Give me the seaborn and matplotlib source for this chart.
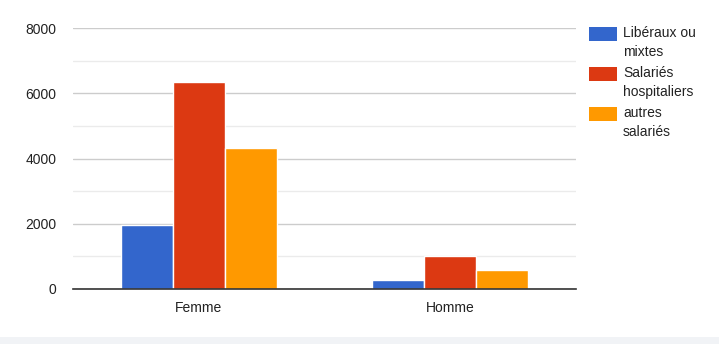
import matplotlib
matplotlib.use("Agg")
import matplotlib.pyplot as plt
import seaborn as sns
import pandas as pd
from matplotlib.patches import Rectangle
from matplotlib.ticker import MultipleLocator

categories = ["Femme", "Homme"]
series_names = ["Libéraux ou mixtes", "Salariés hospitaliers", "autres salariés"]
legend_labels = ["Libéraux ou\nmixtes", "Salariés\nhospitaliers", "autres\nsalariés"]
liberaux = [1970, 280]
hospitaliers = [6335, 1020]
autres = [4320, 575]
colors = ["#3366CC", "#DC3912", "#FF9900"]
yticks = [0, 2000, 4000, 6000, 8000]

rows = []
for s, vals in zip(series_names, [liberaux, hospitaliers, autres]):
    for c, v in zip(categories, vals):
        rows.append({"cat": c, "serie": s, "val": v})
df = pd.DataFrame(rows)

sns.set_theme(style="white")
plt.rcParams["font.family"] = ["Liberation Sans", "DejaVu Sans"]

W, H = 719, 344
fig = plt.figure(figsize=(7.19, 3.44), dpi=100)
fig.patch.set_facecolor("white")
# faint grey band at the bottom of the screenshot
fig.patches.append(Rectangle((0, 0), 1, 7/H, transform=fig.transFigure,
                             facecolor="#f1f3f6", edgecolor="none", zorder=0))
ax = fig.add_axes([73/W, 1-289/H, (576-73)/W, (289-28)/H])

sns.barplot(data=df, x="cat", y="val", hue="serie", order=categories,
            hue_order=series_names, palette=colors, width=0.62, ax=ax,
            saturation=1, edgecolor="white", linewidth=1, legend=False)

ax.set_xlim(-0.5, 1.5)
ax.set_ylim(0, 8000)
ax.set_yticks(yticks)
ax.yaxis.set_minor_locator(MultipleLocator(1000))
ax.grid(axis="y", which="major", color="#cccccc", linewidth=1)
ax.grid(axis="y", which="minor", color="#ebebeb", linewidth=1)
ax.set_axisbelow(True)
for sp in ["top", "right", "left"]:
    ax.spines[sp].set_visible(False)
ax.spines["bottom"].set_color("#333333")
ax.spines["bottom"].set_linewidth(1.2)
ax.spines["bottom"].set_zorder(5)
ax.set_xlabel("")
ax.set_ylabel("")
ax.tick_params(axis="both", which="both", length=0, labelsize=10, colors="#222222")
ax.tick_params(axis="y", pad=12)
ax.tick_params(axis="x", pad=9)

# legend (manual, top-aligned like Google Charts)
for i, (lab, col) in enumerate(zip(legend_labels, colors)):
    top = 27 + i * 40
    fig.patches.append(Rectangle((589/W, 1-(top+14)/H), 28/W, 14/H,
                                 transform=fig.transFigure, facecolor=col,
                                 edgecolor="none"))
    fig.text(623/W, 1-(top-1)/H, lab, fontsize=10, color="#222222",
             va="top", ha="left", linespacing=1.45)

fig.savefig("out.png", dpi=100, facecolor="white")
